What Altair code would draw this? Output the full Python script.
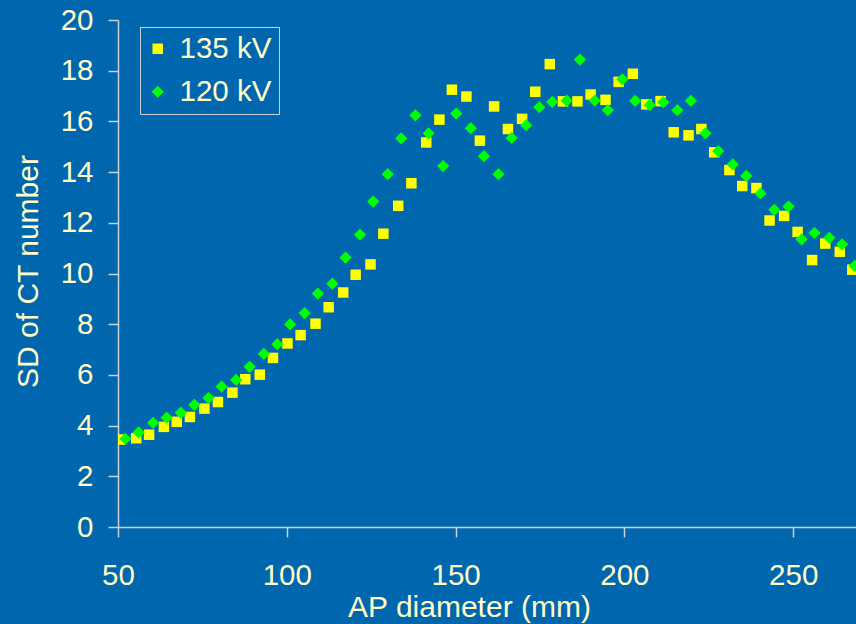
import altair as alt
import pandas as pd

# 135 kV series
x135 = [50.6, 55.4, 59.2, 63.6, 67.4, 71.3, 75.6, 79.6, 83.9, 87.7, 92.0, 95.9, 100.2, 104.1,
        108.5, 112.4, 116.7, 120.4, 124.8, 128.6, 133.0, 136.9, 141.3, 145.2, 148.9, 153.2,
        157.2, 161.4, 165.5, 169.7, 173.6, 177.9, 181.8, 186.1, 190.0, 194.4, 198.3, 202.5,
        206.5, 210.7, 214.6, 219.0, 222.8, 226.6, 231.1, 234.9, 239.1, 243.0, 247.3, 251.3,
        255.6, 259.5, 263.8, 267.5]
y135 = [3.45, 3.5, 3.64, 3.95, 4.15, 4.34, 4.67, 4.93, 5.3, 5.83, 6.01, 6.67, 7.24, 7.57,
        8.02, 8.67, 9.25, 9.95, 10.36, 11.57, 12.67, 13.56, 15.17, 16.07, 17.25, 16.98,
        15.24, 16.59, 15.7, 16.1, 17.17, 18.26, 16.79, 16.79, 17.06, 16.85, 17.56, 17.88,
        16.67, 16.8, 15.57, 15.45, 15.7, 14.78, 14.08, 13.45, 13.37, 12.09, 12.27, 11.64,
        10.53, 11.18, 10.86, 10.15]

# 120 kV series
x120 = [52.2, 56.1, 60.4, 64.4, 68.6, 72.6, 76.8, 80.7, 85.0, 89.0, 93.2, 97.2, 101.0, 105.3,
        109.2, 113.5, 117.4, 121.7, 125.6, 129.9, 133.9, 138.1, 142.0, 146.3, 150.2, 154.5,
        158.4, 162.7, 166.6, 170.9, 174.8, 178.6, 182.9, 186.8, 191.2, 195.1, 199.4, 203.2,
        207.5, 211.5, 215.7, 219.7, 224.0, 227.8, 232.1, 236.1, 240.3, 244.4, 248.6, 252.5,
        256.3, 260.7, 264.5, 268.2]
y120 = [3.48, 3.73, 4.11, 4.31, 4.51, 4.82, 5.09, 5.54, 5.8, 6.32, 6.83, 7.21, 7.99, 8.44,
        9.21, 9.6, 10.63, 11.53, 12.84, 13.92, 15.33, 16.24, 15.53, 14.24, 16.31, 15.73,
        14.63, 13.92, 15.35, 15.85, 16.56, 16.77, 16.82, 18.44, 16.82, 16.44, 17.66, 16.81,
        16.64, 16.76, 16.44, 16.81, 15.53, 14.83, 14.3, 13.85, 13.16, 12.51, 12.64, 11.35,
        11.6, 11.41, 11.15, 10.3]

series = ["135 kV", "120 kV"]
x_ticks = [50, 100, 150, 200, 250]
y_ticks = [0, 2, 4, 6, 8, 10, 12, 14, 16, 18, 20]

df = pd.concat([
    pd.DataFrame({"AP": x135, "SD": y135, "kV": series[0]}),
    pd.DataFrame({"AP": x120, "SD": y120, "kV": series[1]}),
])

BG = "#0066AE"
TXT = "#FFFFCC"
AX = "#C8D2DA"
FONT = "Liberation Sans"

chart = alt.Chart(df).mark_point(filled=True, opacity=1, clip=True, strokeWidth=0).encode(
    x=alt.X("AP:Q",
            scale=alt.Scale(domain=[50, 268.6], nice=False, zero=False),
            axis=alt.Axis(values=x_ticks, title="AP diameter (mm)", grid=False,
                          tickSize=10, labelPadding=24, labelFontSize=29.5,
                          titleX=351, titleY=89.3, titleBaseline="alphabetic",
                          titleAlign="center", labelFlush=False)),
    y=alt.Y("SD:Q",
            scale=alt.Scale(domain=[0, 20], nice=False),
            axis=alt.Axis(values=y_ticks, title="SD of CT number", grid=False,
                          tickSize=10, labelPadding=15, labelFontSize=29.5,
                          titleX=-81, titleY=251, titleAngle=270,
                          titleBaseline="alphabetic", titleAlign="center")),
    color=alt.Color("kV:N", scale=alt.Scale(domain=series, range=["#FFFF00", "#00FF00"]),
                    legend=alt.Legend(title=None, orient="none", legendX=22, legendY=7,
                                      labelFontSize=29.5, labelColor=TXT, labelFont=FONT,
                                      strokeColor=AX, padding=7, rowPadding=12,
                                      symbolSize=110, labelOffset=7, symbolOffset=-4,
                                      symbolStrokeWidth=0)),
    shape=alt.Shape("kV:N", scale=alt.Scale(domain=series, range=["square", "diamond"]),
                    legend=None),
    size=alt.Size("kV:N", scale=alt.Scale(domain=series, range=[110, 150]), legend=None),
).properties(
    width=738, height=507,
    autosize=alt.AutoSizeParams(type="none"),
    padding={"left": 118, "top": 20, "right": 0, "bottom": 97},
    background=BG,
).configure_view(stroke=None).configure_axis(
    domainColor=AX, tickColor=AX, labelColor=TXT, titleColor=TXT,
    labelFont=FONT, titleFont=FONT, titleFontSize=30, titleFontWeight="normal",
    domainWidth=1.5, tickWidth=1.5,
)

chart.save("out.html", embed_options={"renderer": "svg", "actions": False})
